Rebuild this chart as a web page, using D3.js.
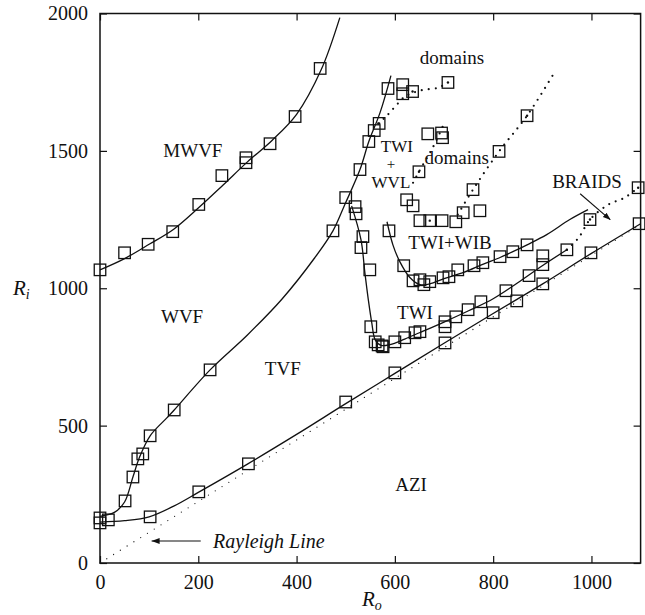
<!DOCTYPE html>
<html>
<head>
<meta charset="utf-8">
<script src="https://cdn.jsdelivr.net/npm/d3@7"></script>
<style>
body { margin: 0; background: #fff; }
svg { display: block; }
text { font-family: "Liberation Serif", "Times New Roman", serif; fill: #111; }
</style>
</head>
<body>
<svg id="chart" width="645" height="615"></svg>
<script>
// DATA (Ro = x, Ri = y)
var xTicks = [0, 200, 400, 600, 800, 1000];
var yTicks = [0, 500, 1000, 1500, 2000];

// measured points (squares)
var mwvfRo = [0, 50, 98, 148, 201, 248, 297, 297, 346, 397, 448];
var mwvfRi = [1067, 1129, 1160, 1206, 1305, 1410, 1457, 1475, 1526, 1625, 1800];

var tvfRo = [0, 0, 51, 67, 77, 87, 102, 151, 224, 474, 500, 529, 547, 558, 568, 586];
var tvfRi = [164, 146, 226, 313, 379, 397, 463, 557, 703, 1209, 1330, 1432, 1534, 1574, 1600, 1727];

var twiRo = [519, 521, 535, 531, 549, 551, 560, 566, 574, 576, 600, 620, 641, 651, 702, 702, 724, 749, 775, 826, 873, 901, 901, 950];
var twiRi = [1297, 1271, 1188, 1148, 1067, 860, 805, 794, 790, 787, 805, 820, 838, 842, 878, 860, 896, 922, 951, 991, 1046, 1086, 1118, 1140];

var wibRo = [588, 618, 637, 651, 659, 671, 698, 710, 728, 761, 779, 814, 840, 869];
var wibRi = [1209, 1082, 1027, 1031, 1013, 1024, 1038, 1042, 1067, 1082, 1093, 1115, 1133, 1158];

var aziRo = [17, 102, 201, 302, 500, 600, 702, 800, 848, 901, 999, 1097];
var aziRi = [157, 168, 259, 361, 586, 692, 801, 911, 954, 1016, 1129, 1235];

var domRo = [616, 616, 636, 708, 667, 695, 697, 649, 624, 637, 651, 671, 696, 724, 739, 773, 759, 812, 869];
var domRi = [1741, 1708, 1716, 1749, 1562, 1565, 1548, 1424, 1322, 1300, 1246, 1246, 1246, 1242, 1275, 1282, 1359, 1498, 1628];

var braidRo = [997, 1095];
var braidRi = [1250, 1366];

// squares that carry a dot in the middle
var dotRo = [568, 636, 708, 649, 869, 950, 997, 1095, 671];
var dotRi = [1600, 1716, 1749, 1424, 1628, 1140, 1250, 1366, 1246];

// solid boundary curves
var mwvfFitRo = [0, 50, 100, 150, 200, 250, 300, 350, 400, 450, 488];
var mwvfFitRi = [1067, 1108, 1160, 1215, 1292, 1375, 1460, 1538, 1633, 1795, 1985];

var tvfFitRo = [0, 30, 50, 67, 80, 102, 136, 151, 224, 300, 370, 437, 474, 498, 529, 547, 570, 592];
var tvfFitRi = [170, 185, 222, 313, 383, 463, 528, 557, 703, 830, 960, 1111, 1209, 1304, 1432, 1534, 1640, 1774];

var twiFitRo = [512, 531, 539, 546, 553, 560, 572, 590, 620, 650, 700, 750, 800, 850, 900, 950];
var twiFitRi = [1300, 1177, 1056, 958, 874, 812, 792, 795, 815, 838, 877, 918, 962, 1020, 1082, 1140];

var wibFitRo = [584, 596, 610, 631, 651, 671, 700, 740, 780, 814, 840, 869, 909, 956, 993];
var wibFitRi = [1242, 1158, 1097, 1038, 1013, 1016, 1035, 1058, 1088, 1112, 1133, 1158, 1195, 1250, 1286];

var aziFitRo = [0, 50, 100, 150, 200, 300, 400, 500, 600, 700, 800, 900, 1000, 1100];
var aziFitRi = [149, 154, 168, 207, 257, 360, 468, 580, 690, 800, 908, 1015, 1127, 1235];

// dotted lines
var rayRo = [0, 1100];
var rayRi = [0, 1232];

var dom1Ro = [566, 582, 600, 621, 653, 688, 708];
var dom1Ri = [1600, 1625, 1660, 1698, 1720, 1730, 1749];
var dom2Ro = [637, 649, 678, 700];
var dom2Ri = [1384, 1424, 1515, 1599];
var dom3Ro = [728, 759, 812, 869, 926];
var dom3Ri = [1268, 1359, 1498, 1628, 1789];
var braidLineRo = [950, 974, 997, 1034, 1068, 1095];
var braidLineRi = [1140, 1184, 1250, 1304, 1330, 1366];

// region labels
var labelText = ["MWVF", "WVF", "TVF", "AZI", "TWI", "TWI+WIB", "domains", "domains", "BRAIDS"];
var labelRo = [189, 167, 372, 633, 641, 712, 716, 726, 991];
var labelRi = [1501, 896, 710, 288, 911, 1166, 1840, 1475, 1388];

// stacked "TWI + WVL" label
var stackText = ["TWI", "+", "WVL"];
var stackRo = [604, 592, 592];
var stackRi = [1518, 1453, 1387];

// LAYOUT
var margin = {top: 13.5, right: 4.4, bottom: 52, left: 100};
var W = 645, H = 615;
var w = W - margin.left - margin.right;
var h = H - margin.top - margin.bottom;
var serif = '"Liberation Serif", "Times New Roman", serif';

var svg = d3.select("#chart");
var defs = svg.append("defs");
defs.append("marker")
    .attr("id", "head")
    .attr("viewBox", "0 0 10 10")
    .attr("refX", 9).attr("refY", 5)
    .attr("markerWidth", 8).attr("markerHeight", 8)
    .attr("markerUnits", "userSpaceOnUse")
    .attr("orient", "auto")
  .append("path")
    .attr("d", "M0,1.5 L10,5 L0,8.5 Z")
    .attr("fill", "#111");

var g = svg.append("g").attr("transform", "translate(" + margin.left + "," + margin.top + ")");

var x = d3.scaleLinear().domain([0, 1100]).range([0, w]);
var y = d3.scaleLinear().domain([0, 2000]).range([h, 0]);

function zip(a, b) {
    return a.map(function(v, i) { return [v, b[i]]; });
}

var line = d3.line()
    .x(function(d) { return x(d[0]); })
    .y(function(d) { return y(d[1]); })
    .curve(d3.curveCatmullRom.alpha(0.5));

var straight = d3.line()
    .x(function(d) { return x(d[0]); })
    .y(function(d) { return y(d[1]); });

// AXES (inward ticks on all four sides)
var fmt = d3.format("d");
g.append("g").attr("transform", "translate(0," + h + ")")
    .call(d3.axisBottom(x).tickValues(xTicks).tickSizeInner(-7).tickSizeOuter(0).tickPadding(12).tickFormat(fmt));
g.append("g")
    .call(d3.axisTop(x).tickValues(xTicks).tickSizeInner(-7).tickSizeOuter(0).tickFormat(""));
g.append("g")
    .call(d3.axisLeft(y).tickValues(yTicks).tickSizeInner(-7).tickSizeOuter(0).tickPadding(12).tickFormat(fmt));
g.append("g").attr("transform", "translate(" + w + ",0)")
    .call(d3.axisRight(y).tickValues(yTicks).tickSizeInner(-7).tickSizeOuter(0).tickFormat(""));

g.selectAll(".domain").remove();
g.selectAll(".tick line").attr("stroke", "#111").attr("stroke-width", 1.2);
g.selectAll(".tick text")
    .style("font-family", serif)
    .style("font-size", "20px")
    .attr("fill", "#111");

g.append("rect")
    .attr("width", w).attr("height", h)
    .attr("fill", "none").attr("stroke", "#111").attr("stroke-width", 1.5);

// CURVES
[[mwvfFitRo, mwvfFitRi], [tvfFitRo, tvfFitRi], [twiFitRo, twiFitRi], [wibFitRo, wibFitRi], [aziFitRo, aziFitRi]]
    .forEach(function(s) {
        g.append("path")
            .attr("d", line(zip(s[0], s[1])))
            .attr("fill", "none").attr("stroke", "#111").attr("stroke-width", 1.3);
    });

g.append("path")
    .attr("d", straight(zip(rayRo, rayRi)))
    .attr("fill", "none").attr("stroke", "#222").attr("stroke-width", 1.3)
    .attr("stroke-linecap", "round").attr("stroke-dasharray", "0 8");

[[dom1Ro, dom1Ri], [dom2Ro, dom2Ri], [dom3Ro, dom3Ri], [braidLineRo, braidLineRi]]
    .forEach(function(s) {
        g.append("path")
            .attr("d", line(zip(s[0], s[1])))
            .attr("fill", "none").attr("stroke", "#111").attr("stroke-width", 2.2)
            .attr("stroke-linecap", "round").attr("stroke-dasharray", "0 7");
    });

// SQUARES
var sq = 11.5;
var allPts = [].concat(
    zip(mwvfRo, mwvfRi), zip(tvfRo, tvfRi), zip(twiRo, twiRi), zip(wibRo, wibRi),
    zip(aziRo, aziRi), zip(domRo, domRi), zip(braidRo, braidRi));

g.selectAll("rect.pt").data(allPts).enter().append("rect")
    .attr("class", "pt")
    .attr("x", function(d) { return x(d[0]) - sq / 2; })
    .attr("y", function(d) { return y(d[1]) - sq / 2; })
    .attr("width", sq).attr("height", sq)
    .attr("fill", "none").attr("stroke", "#111").attr("stroke-width", 1.3);

g.selectAll("circle.dot").data(zip(dotRo, dotRi)).enter().append("circle")
    .attr("cx", function(d) { return x(d[0]); })
    .attr("cy", function(d) { return y(d[1]); })
    .attr("r", 1.2).attr("fill", "#111");

// LABELS
g.selectAll("text.lbl").data(labelText).enter().append("text")
    .attr("class", "lbl")
    .attr("x", function(d, i) { return x(labelRo[i]); })
    .attr("y", function(d, i) { return y(labelRi[i]); })
    .attr("dy", "0.35em")
    .attr("text-anchor", "middle")
    .attr("font-size", 19)
    .text(function(d) { return d; });

g.selectAll("text.stk").data(stackText).enter().append("text")
    .attr("class", "stk")
    .attr("x", function(d, i) { return x(stackRo[i]); })
    .attr("y", function(d, i) { return y(stackRi[i]); })
    .attr("dy", "0.35em")
    .attr("text-anchor", "middle")
    .attr("font-size", function(d) { return d === "+" ? 15 : 17; })
    .text(function(d) { return d; });

// Rayleigh line note
g.append("line")
    .attr("x1", x(105)).attr("y1", y(80)).attr("x2", x(205)).attr("y2", y(80))
    .attr("stroke", "#111").attr("stroke-width", 1.1);
g.append("path")
    .attr("d", "M" + x(105) + "," + y(80) + " l8,-3 l0,6 Z")
    .attr("fill", "#111");
g.append("text")
    .attr("x", x(230)).attr("y", y(80)).attr("dy", "0.35em")
    .attr("font-size", 20).attr("font-style", "italic")
    .text("Rayleigh Line");

// BRAIDS arrow
g.append("line")
    .attr("x1", x(977)).attr("y1", y(1344)).attr("x2", x(1038)).attr("y2", y(1250))
    .attr("stroke", "#111").attr("stroke-width", 1.1)
    .attr("marker-end", "url(#head)");

// AXIS TITLES
var ri = svg.append("text").attr("x", 13).attr("y", 295).attr("font-size", 21).attr("font-style", "italic");
ri.append("tspan").text("R");
ri.append("tspan").attr("font-size", 14).attr("dy", 4).text("i");

var ro = svg.append("text").attr("x", 362).attr("y", 606).attr("font-size", 21).attr("font-style", "italic");
ro.append("tspan").text("R");
ro.append("tspan").attr("font-size", 14).attr("dy", 4).text("o");
</script>
</body>
</html>
